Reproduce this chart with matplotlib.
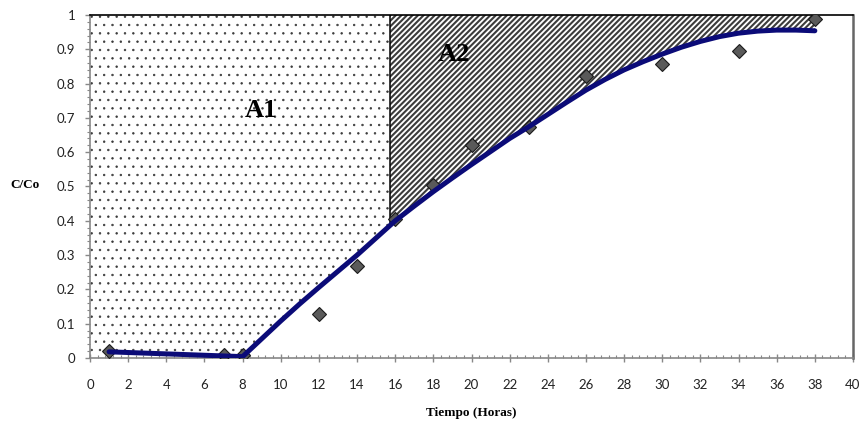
import numpy as np
import matplotlib
matplotlib.use('Agg')
import matplotlib.pyplot as plt
from matplotlib.ticker import MultipleLocator, FuncFormatter

# ---- data ----
time_obs = [1, 7, 8, 12, 14, 16, 18, 20, 23, 26, 30, 34, 38]
c_obs = [0.02, 0.008, 0.008, 0.128, 0.268, 0.405, 0.505, 0.622, 0.674, 0.822, 0.856, 0.894, 0.988]

curve_t = [1, 8, 9, 10, 11, 12, 13, 14, 15, 16, 17, 18, 19, 20, 21, 22, 23, 24, 25, 26,
           27, 28, 29, 30, 31, 32, 33, 34, 35, 36, 37, 38]
curve_c = [0.018, 0.004, 0.056, 0.108, 0.158, 0.206, 0.253, 0.30, 0.35, 0.40, 0.443, 0.485,
           0.525, 0.564, 0.602, 0.640, 0.674, 0.710, 0.746, 0.781, 0.812, 0.840, 0.864,
           0.886, 0.906, 0.923, 0.937, 0.947, 0.953, 0.956, 0.956, 0.954]

t_split = 15.73          # vertical divider between areas A1 and A2
area_labels = ['A1', 'A2']
area_label_x = [8.96, 19.1]
area_label_y = [0.722, 0.885]

x_label = 'Tiempo (Horas)'
y_label = 'C/Co'

plt.rcParams['font.family'] = ['Lato', 'DejaVu Sans']
serif = ['Liberation Serif', 'DejaVu Serif']

fig = plt.figure(figsize=(8.65, 4.22), dpi=100)
ax = fig.add_axes([90 / 865, 1 - 358 / 422, 763 / 865, 343 / 422])

ct = np.array(curve_t, dtype=float)
cc = np.array(curve_c, dtype=float)

# Area A1 (dotted): from x=0 to split, between curve and 1
x1 = np.concatenate(([0.0], ct[ct < t_split], [t_split]))
y1 = np.interp(x1, ct, cc)
f1 = ax.fill_between(x1, y1, 1, facecolor='white', edgecolor='#3a3a3a',
                     linewidth=0, hatch='..', zorder=1)
# Area A2 (hatched): from split to end of curve
x2 = np.concatenate(([t_split], ct[ct > t_split]))
y2 = np.interp(x2, ct, cc)
f2 = ax.fill_between(x2, y2, 1, facecolor='white', edgecolor='#3c3c3c',
                     linewidth=0, hatch='//////', zorder=1)
if hasattr(f1, 'set_hatch_linewidth'):
    f1.set_hatch_linewidth(0.5)
    f2.set_hatch_linewidth(1.5)

ax.vlines(t_split, np.interp(t_split, ct, cc), 1, color='black', lw=1.1, zorder=2)

ax.plot(time_obs, c_obs, linestyle='none', marker='D', ms=7, mfc='#5a5a5a',
        mec='#1a1a1a', mew=0.8, zorder=3)
ax.plot(ct, cc, color='#0b0b78', lw=3.6, solid_capstyle='round', zorder=4)

for lab, lx, ly in zip(area_labels, area_label_x, area_label_y):
    ax.text(lx, ly, lab, family=serif, fontweight='bold', fontsize=19,
            ha='center', va='center', zorder=5)

ax.set_xlim(0, 40)
ax.set_ylim(0, 1)
ax.xaxis.set_major_locator(MultipleLocator(2))
ax.xaxis.set_minor_locator(MultipleLocator(0.4))
ax.yaxis.set_major_locator(MultipleLocator(0.1))
ax.yaxis.set_minor_locator(MultipleLocator(0.02))
ax.yaxis.set_major_formatter(FuncFormatter(lambda v, p: f'{v:g}'))
ax.xaxis.set_major_formatter(FuncFormatter(lambda v, p: f'{v:g}'))

tc = '#888888'
ax.tick_params(axis='x', which='major', direction='inout', length=6, width=1,
               color=tc, pad=12, labelsize=9.5, labelcolor='#222222')
ax.tick_params(axis='x', which='minor', direction='in', length=2.5, width=0.8, color=tc)
ax.tick_params(axis='y', which='major', direction='out', length=3.5, width=1,
               color=tc, pad=7, labelsize=9.5, labelcolor='#222222')
ax.tick_params(axis='y', which='minor', direction='out', length=2.5, width=0.8, color=tc)

ax.spines['top'].set_color('black')
ax.spines['top'].set_linewidth(1.2)
ax.spines['right'].set_color('#666666')
ax.spines['right'].set_linewidth(1.8)
ax.spines['left'].set_color(tc)
ax.spines['left'].set_linewidth(1.2)
ax.spines['bottom'].set_color(tc)
ax.spines['bottom'].set_linewidth(1.2)

ax.set_xlabel(x_label, family=serif, fontweight='bold', fontsize=9.5, va='center')
ax.xaxis.set_label_coords(0.5, (358 - 413) / 343)
ax.set_ylabel(y_label, family=serif, fontweight='bold', fontsize=9.5, rotation=0,
              ha='center', va='center')
ax.yaxis.set_label_coords(-0.085, 0.504)

fig.savefig('out.png', dpi=100)
